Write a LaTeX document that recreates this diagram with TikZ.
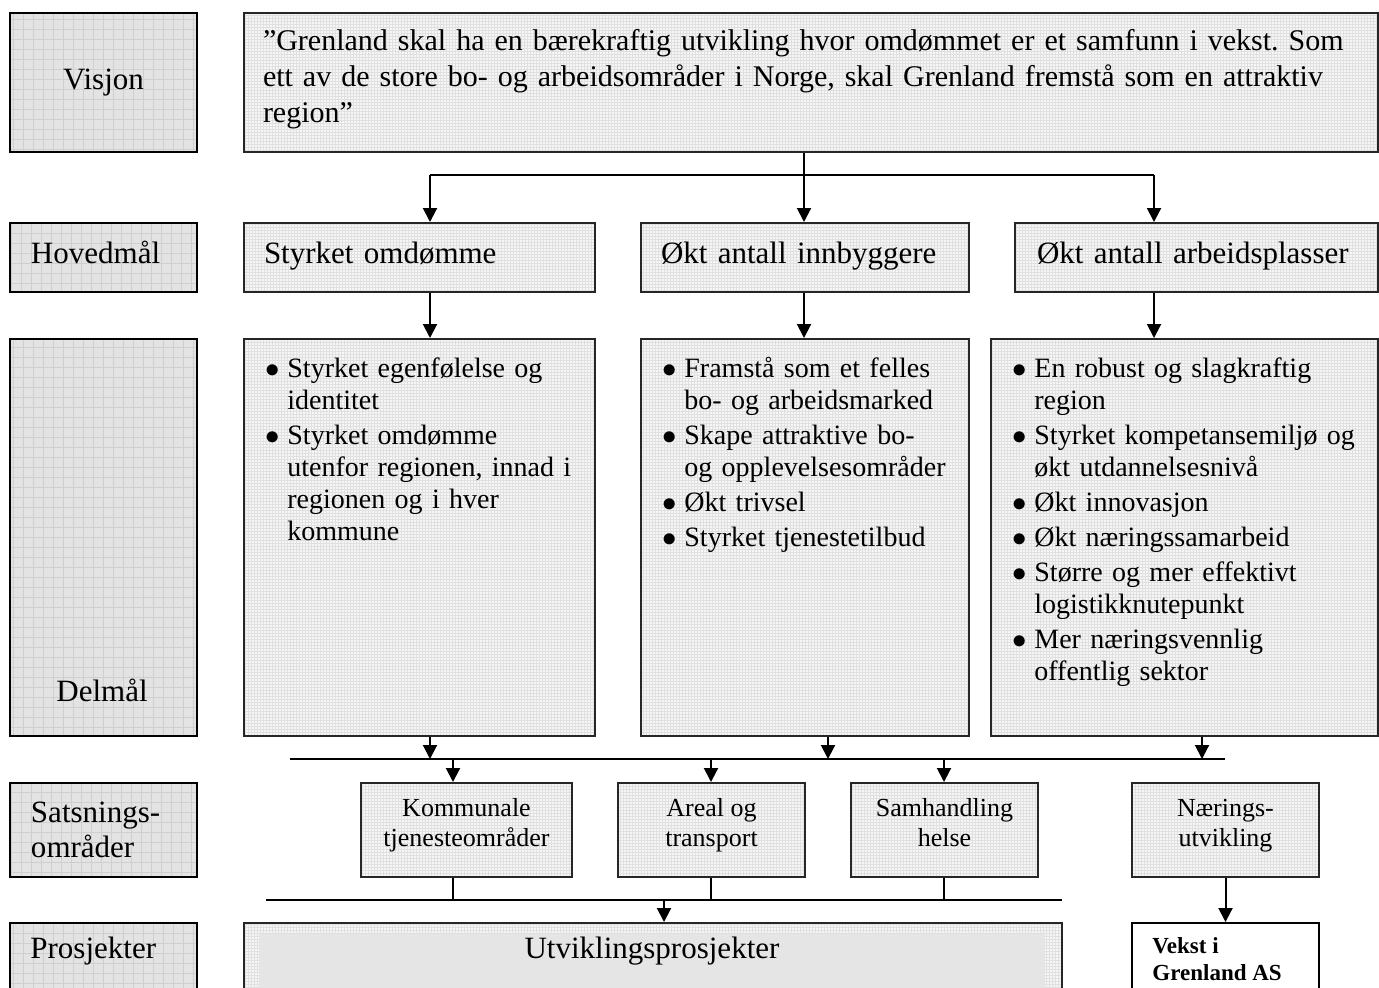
\documentclass[tikz,border=0pt]{standalone}
\usepackage{fontspec}
\setmainfont{Liberation Serif}
\usetikzlibrary{arrows.meta, positioning}
\frenchspacing

\newcommand{\bul}[1]{\par\hangindent=11pt\hangafter=1\noindent\makebox[11pt][l]{$\bullet$}{\let\\\newline #1}\par}

\begin{document}
\begin{tikzpicture}[
  x=0.5pt, y=-0.5pt,
  font=\fontsize{15.5}{18}\selectfont,
  labelbox/.style={draw=black, line width=1pt, fill=gray!22, anchor=north west, inner sep=0pt, minimum width=93.5pt,
    path picture={\draw[gray!38, line width=0.35pt] (path picture bounding box.south west) grid[step=5pt] (path picture bounding box.north east);}},
  labelleft/.style={text width=72.5pt, align=left},
  contentbox/.style={draw=black!85, line width=1pt, fill=gray!7, anchor=north west, inner sep=0pt,
    path picture={\draw[gray!24, line width=0.2pt] (path picture bounding box.south west) grid[step=1.5pt] (path picture bounding box.north east);}},
  goalbox/.style={contentbox, minimum height=34.5pt, align=left},
  subbox/.style={contentbox, minimum height=198.5pt},
  listtext/.style={anchor=north west, inner sep=0pt, font=\fontsize{14}{16}\selectfont,
    execute at begin node={\raggedright\setlength{\parskip}{1.5pt}}},
  areabox/.style={contentbox, minimum height=47pt, minimum width=93.5pt, align=center, font=\fontsize{13}{15}\selectfont,
    execute at begin node=\strut, execute at end node={\rule[-7.5pt]{0pt}{7.5pt}}},
  flow/.style={line width=1pt, -{Triangle[width=7pt, length=7pt]}},
  busline/.style={line width=1pt},
  thinline/.style={line width=0.6pt}
]
\useasboundingbox (0,0) rectangle (1379,987);
\clip (0,0) rectangle (1379,987);

% Label column
\node[labelbox, minimum height=69.5pt] (lVis) at (9,12) {Visjon};
\node[labelbox, labelleft, minimum height=34.5pt] (lHov) at (9,222) {Hovedmål\rule[-5pt]{0pt}{5pt}};
\node[labelbox, minimum height=198.5pt] (lDel) at (9,338) {};
\node (lDelTxt) at (102,690) {Delmål};
\node[labelbox, labelleft, minimum height=47pt, font=\fontsize{15.5}{17.5}\selectfont] (lSat) at (9,782) {Satsnings-\\områder};
\node[labelbox, minimum height=40pt] (lPro) at (9,922) {};
\node[anchor=west, inner sep=0pt] (lProTxt) at (30,951) {Prosjekter};

% Vision
\node[contentbox, minimum width=567pt, minimum height=69.5pt, text width=548pt, align=left, font=\fontsize{15}{18}\selectfont] (vis) at (243,12)
  {”Grenland skal ha en bærekraftig utvikling hvor omdømmet er et samfunn i vekst. Som\\
   ett av de store bo- og arbeidsområder i Norge, skal Grenland fremstå som en attraktiv\\
   region”\rule[-6.3pt]{0pt}{6.3pt}};

% Main goals
\node[goalbox, minimum width=175.5pt, text width=155.5pt] (h1) at (243,222) {Styrket omdømme\rule[-5pt]{0pt}{5pt}};
\node[goalbox, minimum width=164pt, text width=144pt] (h2) at (640,222) {Økt antall innbyggere\rule[-5pt]{0pt}{5pt}};
\node[goalbox, minimum width=181.5pt, text width=159.5pt] (h3) at (1014,222) {Økt antall arbeidsplasser\rule[-5pt]{0pt}{5pt}};

% Sub goals
\node[subbox, minimum width=175.5pt] (d1) at (243,338) {};
\node[subbox, minimum width=164pt] (d2) at (640,338) {};
\node[subbox, minimum width=193.5pt] (d3) at (990,338) {};
\node[listtext, text width=170pt] (d1txt) at (265,342) {%
  \bul{Styrket egenfølelse og\\identitet}
  \bul{Styrket omdømme\\utenfor regionen, innad i\\regionen og i hver\\kommune}};
\node[listtext, text width=155pt] (d2txt) at (662,342) {%
  \bul{Framstå som et felles\\bo- og arbeidsmarked}
  \bul{Skape attraktive bo-\\og opplevelsesområder}
  \bul{Økt trivsel}
  \bul{Styrket tjenestetilbud}};
\node[listtext, text width=185pt] (d3txt) at (1012,342) {%
  \bul{En robust og slagkraftig\\region}
  \bul{Styrket kompetansemiljø og\\økt utdannelsesnivå}
  \bul{Økt innovasjon}
  \bul{Økt næringssamarbeid}
  \bul{Større og mer effektivt\\logistikknutepunkt}
  \bul{Mer næringsvennlig\\offentlig sektor}};

% Focus areas
\node[areabox, minimum width=105.5pt] (s1) at (360,782) {Kommunale\\tjenesteområder};
\node[areabox] (s2) at (617,782) {Areal og\\transport};
\node[areabox] (s3) at (850,782) {Samhandling\\helse};
\node[areabox] (s4) at (1131,782) {Nærings-\\utvikling};

% Projects
\node[contentbox, minimum width=409pt, minimum height=40pt] (u) at (243,922) {};
\fill[gray!20] (259,934) rectangle (1045,1000);
\node (uTxt) at (652,951) {Utviklingsprosjekter};
\node[draw=black, line width=1pt, fill=white, anchor=north west, inner sep=0pt, minimum width=93.5pt, minimum height=40pt] (v) at (1131,922) {};
\node[anchor=north west, inner sep=0pt, align=left, font=\fontsize{11.5}{13.5}\selectfont\bfseries] (vTxt) at (1152,937) {Vekst i\\Grenland AS};

% Connections
\coordinate (c1) at (430,175);
\coordinate (c2) at (804,175);
\coordinate (c3) at (1154,175);
\draw[flow] (vis.south -| c2) -- (c2 |- h2.north);
\draw[busline] (c1) -- (c3);
\draw[flow] (c1) -- (c1 |- h1.north);
\draw[flow] (c3) -- (c3 |- h3.north);
\draw[flow] (c1 |- h1.south) -- (c1 |- d1.north);
\draw[flow] (c2 |- h2.south) -- (c2 |- d2.north);
\draw[flow] (c3 |- h3.south) -- (c3 |- d3.north);

\coordinate (b1w) at (290,759);
\coordinate (b1e) at (1225,759);
\coordinate (k1) at (430,759);
\coordinate (k2) at (828,759);
\coordinate (k3) at (1202,759);
\draw[busline] (b1w) -- (b1e);
\draw[flow] (k1 |- d1.south) -- (k1);
\draw[flow] (k2 |- d2.south) -- (k2);
\draw[flow] (k3 |- d3.south) -- (k3);

\coordinate (t1) at (453,759);
\coordinate (t2) at (711,759);
\coordinate (t3) at (944,759);
\draw[flow] (t1) -- (t1 |- s1.north);
\draw[flow] (t2) -- (t2 |- s2.north);
\draw[flow] (t3) -- (t3 |- s3.north);

\coordinate (b2w) at (266,900);
\coordinate (b2e) at (1062,900);
\coordinate (p1) at (664,900);
\draw[thinline] (t1 |- s1.south) -- (t1 |- b2w);
\draw[thinline] (t2 |- s2.south) -- (t2 |- b2w);
\draw[thinline] (t3 |- s3.south) -- (t3 |- b2w);
\draw[busline] (b2w) -- (b2e);
\draw[flow] (p1) -- (p1 |- u.north);
\draw[flow] (s4.south) -- (v.north);

\end{tikzpicture}
\end{document}
